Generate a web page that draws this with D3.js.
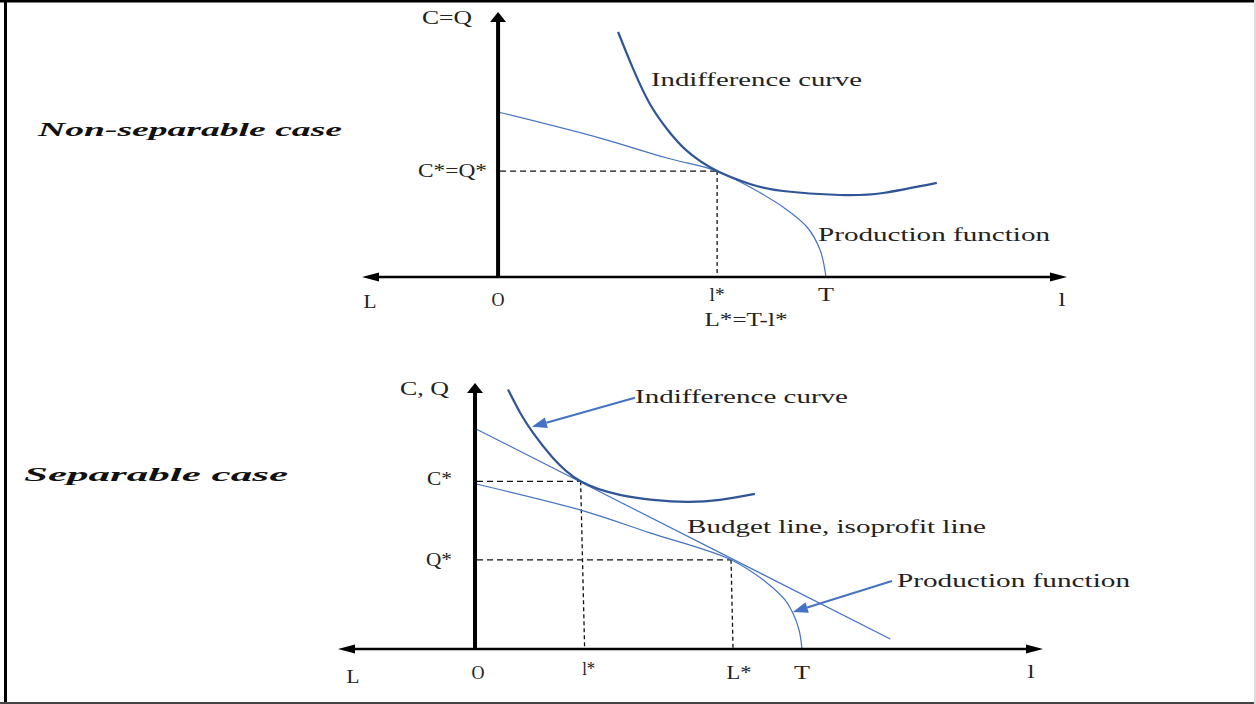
<!DOCTYPE html>
<html>
<head>
<meta charset="utf-8">
<script src="https://cdn.jsdelivr.net/npm/d3@7"></script>
<style>
body { margin: 0; background: #fff; }
text { font-family: "Liberation Serif", "DejaVu Serif", serif; fill: #222; }
</style>
</head>
<body>
<div id="chart"></div>
<script>
var width = 1256, height = 704;

// ---- top panel: non-separable case (l on x, C=Q on y) ----
var topT = 10, topLStar = 6.68, topCStar = 6.42;
var topIndiff = [[3.66,14.85],[4.12,12.61],[4.63,10.48],[5.15,8.97],[5.76,7.64],[6.68,6.42],[7.68,5.64],[8.69,5.21],[10.43,4.97],[11.74,5.09],[13.38,5.70]];
var topProd = [[0,10.0],[3.11,8.42],[5.15,7.21],[6.68,6.42],[7.68,5.45],[8.69,4.24],[9.42,3.03],[9.82,1.64],[10,0]];

// ---- bottom panel: separable case ----
var botT = 10, botLStar = 3.23, botCStar = 10.15, botBigL = 7.83, botQStar = 5.4;
var botIndiff = [[1.01,15.70],[1.38,14.30],[1.77,13.09],[2.35,11.64],[3.23,10.15],[4.43,9.33],[5.44,9.03],[6.48,8.91],[7.49,9.03],[8.56,9.39]];
var botBudget = [[0,13.35],[12.7,0.6]];
var botProd = [[0,10.0],[3.21,8.42],[5.35,7.03],[7.83,5.4],[8.93,4.0],[9.48,2.97],[9.72,2.18],[9.91,1.15],[10,0]];
var botArrowIndiff = [[4.89,15.21],[1.74,13.45]];
var botArrowProd = [[12.75,4.12],[9.72,2.24]];

var titles = ["Non-separable case", "Separable case"];
var curveNames = ["Indifference curve", "Production function", "Budget line, isoprofit line"];

var svg = d3.select("#chart").append("svg")
    .attr("width", width)
    .attr("height", height);

// frame
svg.append("rect").attr("x", 0).attr("y", 0).attr("width", width).attr("height", 2.5).attr("fill", "#000");
svg.append("rect").attr("x", 4).attr("y", 0).attr("width", 3).attr("height", height).attr("fill", "#000");
svg.append("rect").attr("x", 0).attr("y", 702).attr("width", width).attr("height", 2).attr("fill", "#444");
svg.append("rect").attr("x", 1254).attr("y", 0).attr("width", 2).attr("height", height).attr("fill", "#ddd");

var darkBlue = "#2f5597", lightBlue = "#4472c4";

function label(str, x, y, w, anchor, cls) {
    var t = svg.append("text")
        .attr("x", x).attr("y", y)
        .attr("dominant-baseline", "central")
        .attr("text-anchor", anchor || "start")
        .attr("font-size", cls === "title" ? 19 : 18)
        .attr("textLength", w)
        .attr("lengthAdjust", "spacingAndGlyphs")
        .text(str);
    if (cls === "title") t.attr("font-weight", "bold").attr("font-style", "italic").style("fill", "#111");
    return t;
}

function tri(pts, fill) {
    svg.append("path")
        .attr("d", "M" + pts.map(function(p) { return p.join(","); }).join("L") + "Z")
        .attr("fill", fill);
}

function drawAxes(x, y, yMax) {
    var x0 = x(0), y0 = y(0);
    var xl = x.range()[0], xr = x.range()[1];
    // horizontal axis with arrows both ends
    svg.append("line").attr("x1", xl + 10).attr("x2", xr - 10).attr("y1", y0).attr("y2", y0)
        .attr("stroke", "#000").attr("stroke-width", 2.5);
    tri([[xl, y0], [xl + 17, y0 - 4.5], [xl + 17, y0 + 4.5]], "#000");
    tri([[xr, y0], [xr - 17, y0 - 4.5], [xr - 17, y0 + 4.5]], "#000");
    // vertical axis
    var yt = y(yMax);
    svg.append("line").attr("x1", x0).attr("x2", x0).attr("y1", y0 + 1).attr("y2", yt + 6)
        .attr("stroke", "#000").attr("stroke-width", 4);
    tri([[x0, yt], [x0 - 8, yt + 10], [x0 + 8, yt + 10]], "#000");
}

function drawCurve(pts, x, y, color, w, curve) {
    var line = d3.line()
        .x(function(d) { return x(d[0]); })
        .y(function(d) { return y(d[1]); })
        .curve(curve || d3.curveCatmullRom.alpha(0.5));
    svg.append("path").datum(pts)
        .attr("d", line)
        .attr("fill", "none")
        .attr("stroke", color)
        .attr("stroke-width", w);
}

function dashed(x1, y1, x2, y2, dash) {
    svg.append("line").attr("x1", x1).attr("y1", y1).attr("x2", x2).attr("y2", y2)
        .attr("stroke", "#111").attr("stroke-width", 1.3).attr("stroke-dasharray", dash);
}

function blueArrow(pts, x, y) {
    var x1 = x(pts[0][0]), y1 = y(pts[0][1]), x2 = x(pts[1][0]), y2 = y(pts[1][1]);
    var dx = x2 - x1, dy = y2 - y1, len = Math.sqrt(dx * dx + dy * dy);
    var ux = dx / len, uy = dy / len, hl = 15, hw = 5.5;
    svg.append("line").attr("x1", x1).attr("y1", y1).attr("x2", x2 - ux * hl).attr("y2", y2 - uy * hl)
        .attr("stroke", lightBlue).attr("stroke-width", 2);
    tri([[x2, y2], [x2 - ux * hl - uy * hw, y2 - uy * hl + ux * hw], [x2 - ux * hl + uy * hw, y2 - uy * hl - ux * hw]], lightBlue);
}

// ================= top panel =================
var xTop = d3.scaleLinear().domain([-4.15, 17.35]).range([362, 1067]);
var yTop = d3.scaleLinear().domain([0, 16.06]).range([277, 12]);

dashed(xTop(0) + 2, yTop(topCStar), xTop(topLStar), yTop(topCStar), "6,4");
dashed(xTop(topLStar), yTop(topCStar), xTop(topLStar), yTop(0), "4,3");
drawCurve(topProd, xTop, yTop, lightBlue, 1.2);
drawCurve(topIndiff, xTop, yTop, darkBlue, 2.2, d3.curveNatural);
drawAxes(xTop, yTop, 16.06);

label("C=Q", 472, 18, 50, "end");
label("C*=Q*", 487, yTop(topCStar), 69, "end");
label("L", 370, 302, 13, "middle");
label("O", xTop(0), 300, 13, "middle");
label("l*", xTop(topLStar), 295, 15, "middle");
label("T", xTop(topT), 295, 16, "middle");
label("l", 1062, 300, 7, "middle");
label("L*=T-l*", 746, 320, 83, "middle");
label(curveNames[0], 651, 80, 211);
label(curveNames[1], 818, 235, 232);
label(titles[0], 38, 129, 304, "start", "title");

// ================= bottom panel =================
var xBot = d3.scaleLinear().domain([-4.19, 17.37]).range([338, 1043]);
var yBot = d3.scaleLinear().domain([0, 16.1]).range([649, 383]);

dashed(xBot(0) + 2, yBot(botCStar), xBot(botLStar), yBot(botCStar), "6,4");
dashed(xBot(botLStar), yBot(botCStar), xBot(botLStar) + 4, yBot(0), "4,3");
dashed(xBot(0) + 2, yBot(botQStar), xBot(botBigL), yBot(botQStar), "6,4");
dashed(xBot(botBigL), yBot(botQStar), xBot(botBigL) + 2, yBot(0), "4,3");
drawCurve(botBudget, xBot, yBot, lightBlue, 1.2, d3.curveLinear);
drawCurve(botProd, xBot, yBot, lightBlue, 1.2);
drawCurve(botIndiff, xBot, yBot, darkBlue, 2.2, d3.curveNatural);
drawAxes(xBot, yBot, 16.1);
blueArrow(botArrowIndiff, xBot, yBot);
blueArrow(botArrowProd, xBot, yBot);

label("C, Q", 449, 389, 49, "end");
label("C*", 452, yBot(botCStar) - 2, 25, "end");
label("Q*", 452, yBot(botQStar), 26, "end");
label("L", 353, 677, 13, "middle");
label("O", xBot(0) + 3, 673, 13, "middle");
label("l*", xBot(botLStar) + 8, 669, 13, "middle");
label("L*", xBot(botBigL) + 8, 673, 25, "middle");
label("T", xBot(botT), 673, 16, "middle");
label("l", 1031, 672, 7, "middle");
label(curveNames[0], 635, 397, 213);
label(curveNames[2], 687, 527, 299);
label(curveNames[1], 897, 581, 233);
label(titles[1], 24, 474, 264, "start", "title");
</script>
</body>
</html>
